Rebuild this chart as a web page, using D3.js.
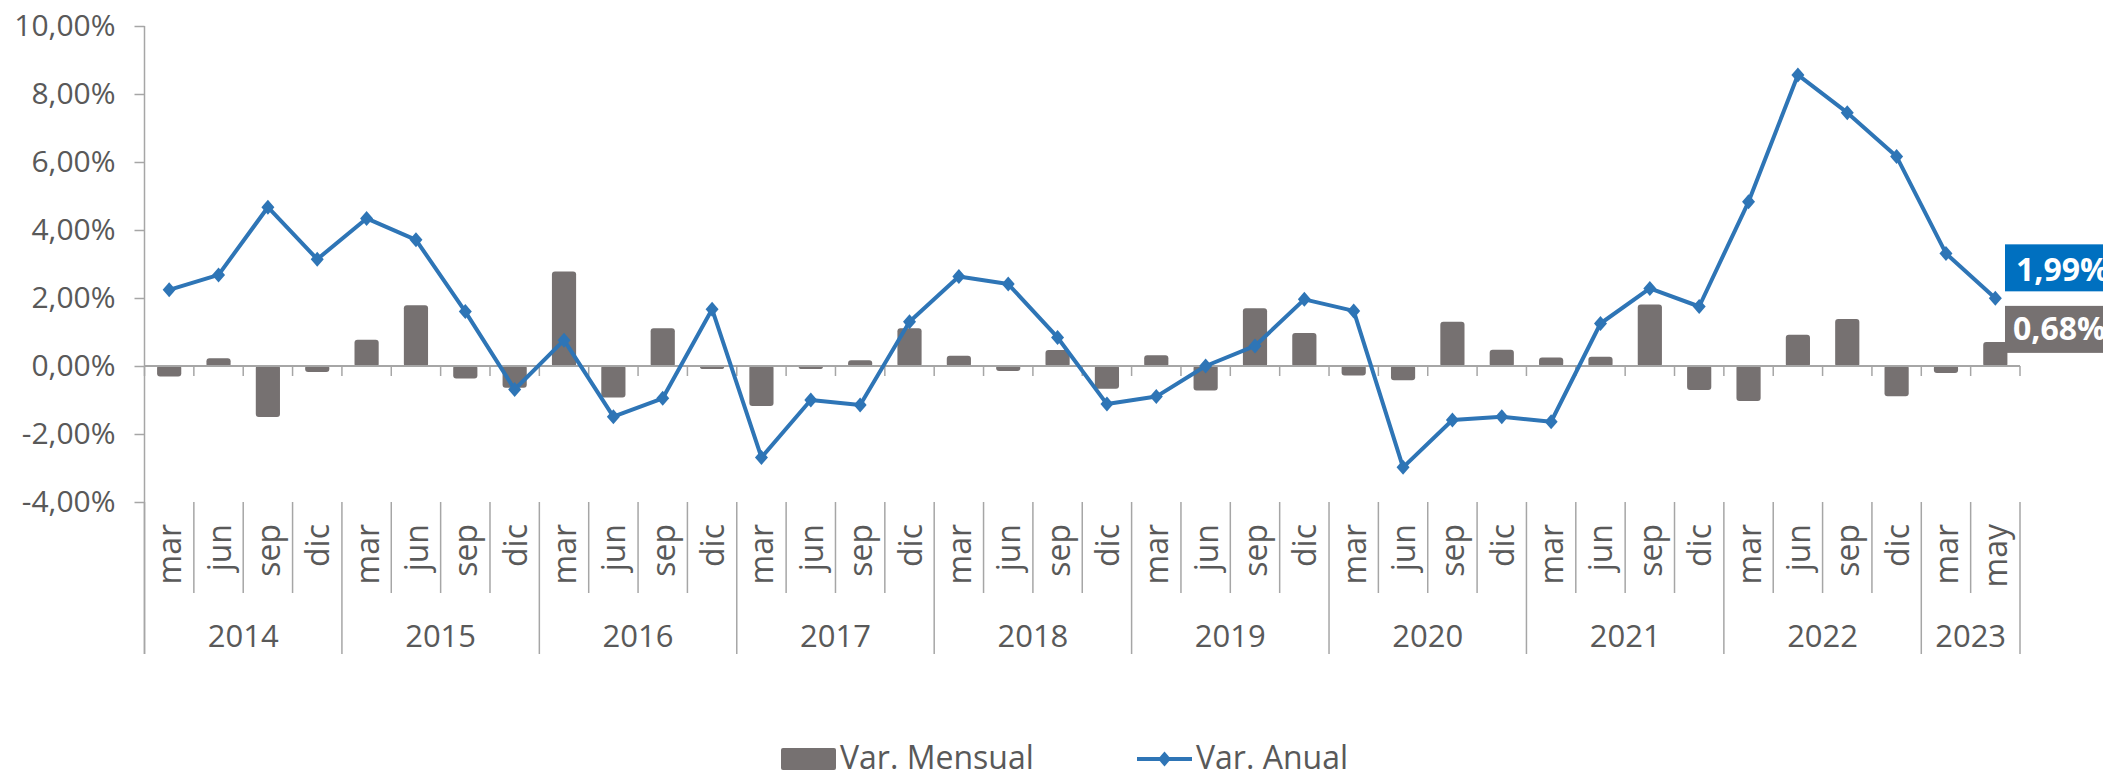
<!DOCTYPE html>
<html>
<head>
<meta charset="utf-8">
<script src="https://cdn.jsdelivr.net/npm/d3@7"></script>
<style>
  html, body { margin: 0; padding: 0; background: #ffffff; }
  svg { display: block; font-family: "Open Sans", "Liberation Sans", sans-serif; }
</style>
</head>
<body>
<svg id="chart" width="2103" height="771"></svg>
<script>
// ---- data ----
const years = ["2014","2015","2016","2017","2018","2019","2020","2021","2022","2023"];
const monthsPerYear = [
  ["mar","jun","sep","dic"],["mar","jun","sep","dic"],["mar","jun","sep","dic"],
  ["mar","jun","sep","dic"],["mar","jun","sep","dic"],["mar","jun","sep","dic"],
  ["mar","jun","sep","dic"],["mar","jun","sep","dic"],["mar","jun","sep","dic"],
  ["mar","may"]
];
const varMensual = [-0.28, 0.20, -1.47, -0.15, 0.74, 1.76, -0.34, -0.61, 2.75, -0.90, 1.08, -0.05,
                    -1.15, -0.04, 0.14, 1.08, 0.27, -0.12, 0.44, -0.64, 0.29, -0.69, 1.67, 0.94,
                    -0.25, -0.39, 1.27, 0.45, 0.22, 0.24, 1.78, -0.68, -1.00, 0.89, 1.35, -0.86,
                    -0.18, 0.68];
const varAnual = [2.24, 2.68, 4.67, 3.14, 4.34, 3.71, 1.60, -0.69, 0.76, -1.49, -0.95, 1.67,
                  -2.69, -1.00, -1.15, 1.30, 2.63, 2.41, 0.84, -1.12, -0.90, 0.00, 0.59, 1.96,
                  1.62, -2.98, -1.59, -1.49, -1.64, 1.25, 2.28, 1.75, 4.83, 8.56, 7.45, 6.16,
                  3.31, 1.99];
const yTicks = [-4, -2, 0, 2, 4, 6, 8, 10];
const seriesNames = ["Var. Mensual", "Var. Anual"];

// ---- build categories ----
const cats = [];
years.forEach((yr, yi) => monthsPerYear[yi].forEach(m => cats.push({year: yr, month: m, key: yr + "-" + m})));
const data = cats.map((c, i) => ({...c, mensual: varMensual[i], anual: varAnual[i]}));

const fmt = v => (v < 0 ? "-" : "") + Math.abs(v).toFixed(2).replace(".", ",") + "%";

const C_BAR = "#767171", C_LINE = "#2E75B6", C_TEXT = "#595959", C_AXIS = "#A6A6A6";

const svg = d3.select("#chart");
const x0 = 144.5, x1 = 2020;
const x = d3.scaleBand().domain(data.map(d => d.key)).range([x0, x1]).padding(0);
const y = d3.scaleLinear().domain([-4, 10]).range([502, 26]);
const bw = x.bandwidth();
const barW = bw * 0.49;

// y axis
const yAxis = svg.append("g").attr("transform", `translate(${x0},0)`)
  .call(d3.axisLeft(y).tickValues(yTicks).tickSize(10).tickPadding(19).tickFormat(fmt));
yAxis.select(".domain").remove();
yAxis.selectAll(".tick line").attr("stroke", C_AXIS).attr("stroke-width", 1.5);
yAxis.selectAll(".tick text").attr("fill", C_TEXT).style("font-size", "30px")
  .style("font-family", "'Open Sans', sans-serif");
svg.append("line").attr("x1", x0).attr("x2", x0).attr("y1", y(10)).attr("y2", 654)
  .attr("stroke", C_AXIS).attr("stroke-width", 1.5);

// bars
svg.append("g").selectAll("rect").data(data).join("rect")
  .attr("x", d => x(d.key) + (bw - barW) / 2)
  .attr("width", barW)
  .attr("y", d => Math.min(y(d.mensual), y(0)) - 1)
  .attr("height", d => Math.max(Math.abs(y(d.mensual) - y(0)), 2) + 2)
  .attr("rx", 3).attr("ry", 3)
  .attr("fill", C_BAR);

// zero axis with ticks
svg.append("line").attr("x1", x0).attr("x2", x1).attr("y1", y(0)).attr("y2", y(0))
  .attr("stroke", C_AXIS).attr("stroke-width", 2);
const bounds = data.map(d => x(d.key)).concat([x1]);
svg.append("g").selectAll("line").data(bounds).join("line")
  .attr("x1", d => d).attr("x2", d => d).attr("y1", y(0)).attr("y2", y(0) + 10)
  .attr("stroke", C_AXIS).attr("stroke-width", 1.5);

// category axis (month separators and year separators)
let idx = 0;
const yearSpans = [];
monthsPerYear.forEach((ms, yi) => { yearSpans.push({year: years[yi], start: idx, end: idx + ms.length}); idx += ms.length; });
const sepG = svg.append("g");
bounds.forEach((bx, i) => {
  const isYear = yearSpans.some(s => s.start === i) || i === data.length;
  sepG.append("line").attr("x1", bx).attr("x2", bx).attr("y1", 502).attr("y2", isYear ? 654 : 593)
    .attr("stroke", C_AXIS).attr("stroke-width", 1.5);
});
svg.append("g").selectAll("text").data(data).join("text")
  .attr("transform", d => `translate(${x(d.key) + bw / 2 + 12},524) rotate(-90)`)
  .attr("text-anchor", "end")
  .attr("fill", C_TEXT).style("font-size", "32px")
  .text(d => d.month);
svg.append("g").selectAll("text").data(yearSpans).join("text")
  .attr("x", s => (x(data[s.start].key) + (s.end < data.length ? x(data[s.end].key) : x1)) / 2)
  .attr("y", 647)
  .attr("text-anchor", "middle")
  .attr("fill", C_TEXT).style("font-size", "31px")
  .text(s => s.year);

// line
const line = d3.line().x(d => x(d.key) + bw / 2).y(d => y(d.anual));
svg.append("path").datum(data).attr("d", line).attr("fill", "none")
  .attr("stroke", C_LINE).attr("stroke-width", 4).attr("stroke-linejoin", "round");
const diamond = "M0,-7.5L6.5,0L0,7.5L-6.5,0Z";
svg.append("g").selectAll("path").data(data).join("path")
  .attr("transform", d => `translate(${x(d.key) + bw / 2},${y(d.anual)})`)
  .attr("d", diamond).attr("fill", C_LINE);

// data labels for last point
const last = data[data.length - 1];
const lblX = 2005;
const g1 = svg.append("g");
g1.append("rect").attr("x", lblX).attr("y", y(last.anual) - 54).attr("width", 130).attr("height", 47).attr("fill", "#0070C0");
g1.append("text").attr("x", lblX + 11).attr("y", y(last.anual) - 17)
  .attr("fill", "#ffffff").style("font-size", "32px").style("font-weight", "bold").text(fmt(last.anual));
const g2 = svg.append("g");
g2.append("rect").attr("x", lblX).attr("y", y(last.mensual) - 37).attr("width", 130).attr("height", 47).attr("fill", C_BAR);
g2.append("text").attr("x", lblX + 8).attr("y", y(last.mensual) - 3)
  .attr("fill", "#ffffff").style("font-size", "32px").style("font-weight", "bold").text(fmt(last.mensual));

// legend
const lg = svg.append("g");
lg.append("rect").attr("x", 781).attr("y", 748).attr("width", 55).attr("height", 22).attr("rx", 2).attr("fill", C_BAR);
lg.append("text").attr("x", 840).attr("y", 769).attr("fill", C_TEXT).style("font-size", "32px").text(seriesNames[0]);
lg.append("line").attr("x1", 1137).attr("x2", 1192).attr("y1", 759).attr("y2", 759)
  .attr("stroke", C_LINE).attr("stroke-width", 4);
lg.append("path").attr("transform", "translate(1164.5,759)").attr("d", diamond).attr("fill", C_LINE);
lg.append("text").attr("x", 1196).attr("y", 769).attr("fill", C_TEXT).style("font-size", "32px").text(seriesNames[1]);
</script>
</body>
</html>
